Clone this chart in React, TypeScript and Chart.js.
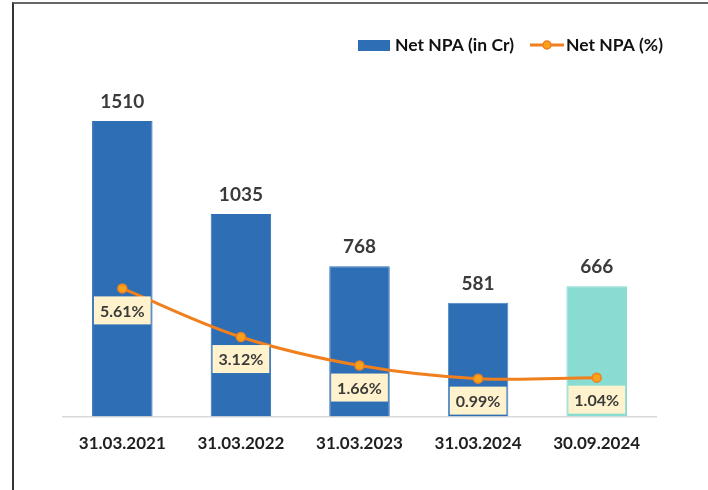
import React, { useEffect, useRef } from "react";
import { Chart, registerables } from "chart.js";

Chart.register(...registerables);

const categories = ["31.03.2021", "31.03.2022", "31.03.2023", "31.03.2024", "30.09.2024"];
const netNpaCr = [1510, 1035, 768, 581, 666];
const netNpaPct = [5.61, 3.12, 1.66, 0.99, 1.04];
const seriesNames = ["Net NPA (in Cr)", "Net NPA (%)"];
const barColors = ["#2E6EB5", "#2E6EB5", "#2E6EB5", "#2E6EB5", "#88DCD2"];
const barBorders = ["#2E6EB5", "#2E6EB5", "#2E6EB5", "#4A88C8", "#7ED3C9"];

const FONT = "Lato, 'Open Sans', 'Liberation Sans', sans-serif";
const BAR_BLUE = "#2E6EB5";
const LINE_ORANGE = "#F07F1E";
const MARKER_FILL = "#F9A11B";

const labelPlugin = {
  id: "npaLabels",
  afterDatasetsDraw(chart: any) {
    const ctx = chart.ctx;
    ctx.save();
    // bar value labels
    const barMeta = chart.getDatasetMeta(0);
    ctx.font = `bold 19px ${FONT}`;
    ctx.fillStyle = "#3a3a3a";
    ctx.textAlign = "center";
    ctx.textBaseline = "middle";
    barMeta.data.forEach((el: any, i: number) => {
      ctx.fillText(String(netNpaCr[i]), el.x, el.y - 19);
    });
    // line value labels in boxes
    const lineMeta = chart.getDatasetMeta(1);
    ctx.font = `bold 16px ${FONT}`;
    lineMeta.data.forEach((el: any, i: number) => {
      const txt = netNpaPct[i].toFixed(2) + "%";
      const w = ctx.measureText(txt).width + 12;
      const h = 28;
      const top = el.y + 8;
      ctx.fillStyle = "#FFF2CC";
      ctx.fillRect(el.x - w / 2, top, w, h);
      ctx.fillStyle = "#3a3a3a";
      ctx.fillText(txt, el.x, top + h / 2 + 1);
    });
    ctx.restore();
  },
  afterDraw(chart: any) {
    // legend
    const ctx = chart.ctx;
    ctx.save();
    const cy = 45;
    ctx.fillStyle = BAR_BLUE;
    ctx.fillRect(358, cy - 5, 32, 11);
    ctx.font = `bold 17.5px ${FONT}`;
    ctx.textAlign = "left";
    ctx.textBaseline = "middle";
    ctx.fillStyle = "#111";
    ctx.fillText(seriesNames[0], 395, cy);
    const tw = ctx.measureText(seriesNames[0]).width;
    const lx = 395 + tw + 16;
    ctx.strokeStyle = LINE_ORANGE;
    ctx.lineWidth = 3;
    ctx.beginPath();
    ctx.moveTo(lx, cy);
    ctx.lineTo(lx + 34, cy);
    ctx.stroke();
    ctx.beginPath();
    ctx.arc(lx + 17, cy, 4, 0, Math.PI * 2);
    ctx.fillStyle = MARKER_FILL;
    ctx.fill();
    ctx.lineWidth = 1.5;
    ctx.stroke();
    ctx.fillStyle = "#111";
    ctx.fillText(seriesNames[1], lx + 36, cy);
    ctx.restore();
  },
};

export default function App() {
  const ref = useRef<HTMLCanvasElement | null>(null);

  useEffect(() => {
    if (!ref.current) return;
    const chart = new Chart(ref.current, {
      type: "bar",
      data: {
        labels: categories,
        datasets: [
          {
            type: "bar",
            label: seriesNames[0],
            data: netNpaCr,
            backgroundColor: barColors,
            borderColor: barBorders,
            borderWidth: 1,
            categoryPercentage: 1,
            barPercentage: 0.51,
            yAxisID: "y",
            order: 2,
          } as any,
          {
            type: "line",
            label: seriesNames[1],
            data: netNpaPct,
            borderColor: LINE_ORANGE,
            borderWidth: 3,
            tension: 0.35,
            pointRadius: 4.5,
            pointBackgroundColor: MARKER_FILL,
            pointBorderColor: LINE_ORANGE,
            pointBorderWidth: 1.5,
            yAxisID: "y1",
            order: 1,
          } as any,
        ],
      },
      options: {
        responsive: false,
        animation: false,
        layout: { padding: { left: 63, right: 52, top: 80, bottom: 19 } },
        plugins: {
          legend: { display: false },
          tooltip: { enabled: false },
        },
        scales: {
          x: {
            grid: { display: false, drawTicks: false },
            border: { display: true, color: "#D9D9D9", width: 1.5 },
            ticks: {
              font: { family: FONT, weight: "bold", size: 17 },
              color: "#1f1f1f",
              padding: 17,
            },
          },
          y: { display: false, min: 0, max: 1719 },
          y1: { display: false, min: -0.954, max: 16.28, position: "right" },
        },
      },
      plugins: [labelPlugin],
    });
    return () => chart.destroy();
  }, []);

  return (
    <div
      style={{
        position: "fixed",
        left: 0,
        top: 0,
        width: 708,
        height: 490,
        background: "#fff",
        overflow: "hidden",
      }}
    >
      <canvas ref={ref} width={708} height={490} style={{ display: "block", position: "absolute", left: 0, top: 0 }} />
      <div
        style={{
          position: "absolute",
          left: 12,
          top: 2,
          width: 720,
          height: 520,
          borderLeft: "2px solid #333",
          borderTop: "2px solid #666",
          pointerEvents: "none",
        }}
      />
    </div>
  );
}
